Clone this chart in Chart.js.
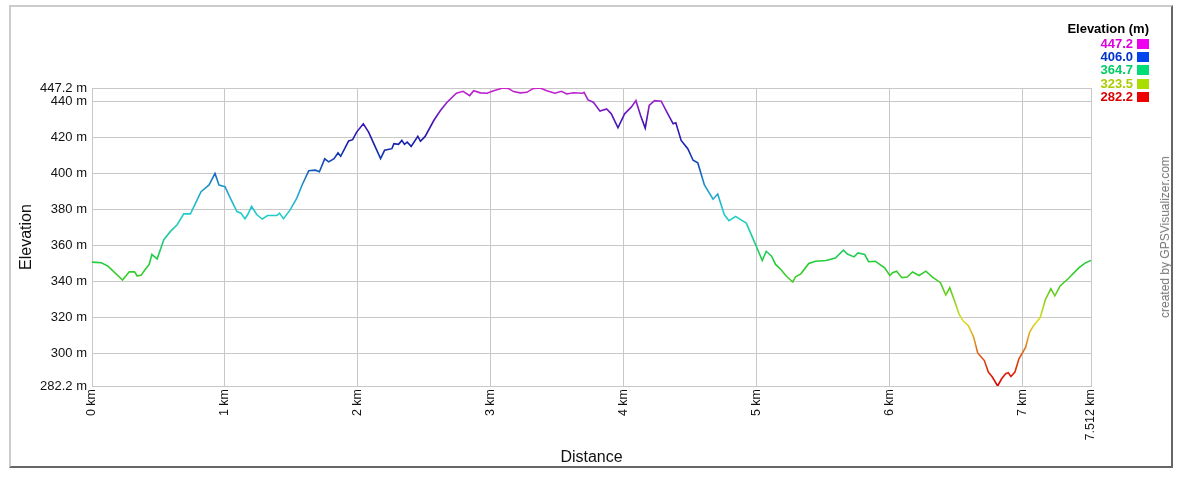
<!DOCTYPE html>
<html>
<head>
<meta charset="utf-8">
<title>Elevation profile</title>
<script src="https://cdn.jsdelivr.net/npm/chart.js@4/dist/chart.umd.min.js"></script>
<style>
  html, body { margin: 0; padding: 0; background: #fff; }
  body { width: 1183px; height: 478px; position: relative; overflow: hidden; font-family: "Liberation Sans", Arial, sans-serif; }
  #panel {
    position: absolute; left: 9px; top: 5px; width: 1164px; height: 463px; box-sizing: border-box;
    background: #fff; border-top: 2px solid #ccc; border-left: 2px solid #ccc;
    border-right: 2px solid #666; border-bottom: 2px solid #666;
  }
  #wrap { position: absolute; left: 0; top: 0; width: 1183px; height: 478px; }
  #legend { position: absolute; right: 34px; top: 21px; text-align: right; font-weight: bold; font-size: 13px; }
  #legend .head { color: #000; height: 16px; }
  #legend .row { height: 13.2px; line-height: 13px; }
  #legend .sw { display: inline-block; width: 12px; height: 10px; margin-left: 4px; vertical-align: -1px; }
  #credit {
    position: absolute; left: 1165px; top: 237px; transform: translate(-50%, -50%) rotate(-90deg);
    white-space: nowrap; font-size: 12px; color: #777;
  }
</style>
</head>
<body>
<div id="panel"></div>
<div id="wrap"><canvas id="chartElevation" width="1183" height="478"></canvas></div>
<div id="legend"></div>
<div id="credit">created by GPSVisualizer.com</div>
<script>
  // distance along the track (km) and elevation (m)
  const distKm = [
    0, 0.07, 0.12, 0.23, 0.28, 0.32, 0.34, 0.37, 0.40, 0.43,
    0.45, 0.49, 0.54, 0.59, 0.64, 0.69, 0.74, 0.82, 0.88, 0.925,
    0.955, 1.0, 1.04, 1.09, 1.12, 1.15, 1.17, 1.2, 1.24, 1.28,
    1.32, 1.39, 1.41, 1.44, 1.49, 1.54, 1.58, 1.63, 1.68, 1.71,
    1.75, 1.78, 1.82, 1.85, 1.87, 1.93, 1.96, 1.99, 2.04, 2.08,
    2.13, 2.17, 2.2, 2.255, 2.27, 2.305, 2.33, 2.35, 2.37, 2.4,
    2.45, 2.47, 2.505, 2.57, 2.62, 2.67, 2.74, 2.79, 2.84, 2.87,
    2.92, 2.97, 3.02, 3.09, 3.13, 3.17, 3.22, 3.27, 3.32, 3.37,
    3.42, 3.48, 3.53, 3.57, 3.62, 3.69, 3.7, 3.73, 3.77, 3.82,
    3.87, 3.905, 3.955, 4.005, 4.055, 4.09, 4.125, 4.16, 4.19, 4.23,
    4.28, 4.33, 4.37, 4.39, 4.43, 4.48, 4.52, 4.555, 4.605, 4.67,
    4.705, 4.755, 4.79, 4.84, 4.88, 4.92, 4.99, 5.04, 5.07, 5.11,
    5.14, 5.18, 5.22, 5.27, 5.29, 5.33, 5.39, 5.44, 5.52, 5.59,
    5.65, 5.68, 5.73, 5.76, 5.81, 5.84, 5.89, 5.96, 6.0, 6.02,
    6.05, 6.09, 6.13, 6.17, 6.22, 6.27, 6.32, 6.38, 6.42, 6.45,
    6.49, 6.52, 6.55, 6.59, 6.63, 6.66, 6.71, 6.74, 6.77, 6.81,
    6.84, 6.87, 6.89, 6.91, 6.94, 6.97, 7.02, 7.05, 7.08, 7.13,
    7.17, 7.21, 7.24, 7.28, 7.34, 7.42, 7.47, 7.512
  ];
  const elevM = [
    350.8, 350.4, 348.6, 340.9, 345.4, 345.4, 343.1, 343.6, 346.7, 349.5,
    355, 352.6, 363.2, 367.8, 371.5, 377.5, 377.5, 389.8, 393.5, 399.9,
    393.5, 392.6, 386.2, 378.8, 377.9, 374.8, 377, 381.6, 377, 374.6,
    376.6, 376.6, 377.9, 374.8, 379.7, 386.2, 393.5, 401.4, 401.7, 400.8,
    408, 406.3, 408.1, 411.3, 409.4, 417.9, 418.6, 422.8, 427.4, 422.8,
    414.6, 408.1, 412.7, 413.6, 416.4, 416, 418.2, 416, 417.3, 414.9,
    420.4, 417.7, 420.4, 429.2, 434.7, 439.3, 444.3, 445.4, 443, 445.7,
    444.5, 444.3, 445.7, 447.2, 447, 445.2, 444.5, 444.8, 447, 447.2,
    445.7, 444.3, 445.4, 443.9, 444.6, 444.3, 444.8, 440.6, 439.3, 434.4,
    435.6, 432.9, 425.2, 432.9, 436.6, 440.2, 432, 425, 437.5, 440.2,
    439.9, 432.9, 427.4, 427.9, 418.2, 413.6, 407.2, 405.8, 393.5, 385.6,
    388.5, 377, 373.7, 376.1, 374.2, 372.4, 360.5, 351.7, 356.8, 354.1,
    349.5, 346.7, 343.1, 339.8, 342.7, 344.3, 350.0, 351.3, 351.7, 353,
    357.4, 355.3, 353.7, 355.9, 355, 351, 351.3, 347.6, 343.4, 344.9,
    345.8, 342.2, 342.5, 345.3, 343.4, 345.8, 342.5, 339.4, 332.6, 336.6,
    328.4, 322, 318.3, 315.6, 309.2, 300.5, 296.3, 289.9, 287.2, 282.2,
    286.2, 289, 289.5, 287.5, 289.9, 297.2, 303.6, 311.9, 315.6, 320.1,
    330.2, 336.1, 332.1, 337.6, 341.6, 347.6, 350.4, 351.7
  ];

  const xTicks = [0, 1, 2, 3, 4, 5, 6, 7, 7.512];
  const yTicks = [282.2, 300, 320, 340, 360, 380, 400, 420, 440, 447.2];

  // legend values (top to bottom)
  const legendValues = ['447.2', '406.0', '364.7', '323.5', '282.2'];
  const legendText = ['#dd00dd', '#0033cc', '#00cc66', '#aacc00', '#dd0000'];
  const legendSwatch = ['#ee00ee', '#0044ee', '#00dd77', '#aadd00', '#ee0000'];

  // colour ramp along the elevation axis
  const rampStops = [
    [282.2, '#dd0000'], [296, '#dd4411'], [308, '#dd9922'], [318, '#dddd22'],
    [326, '#aad422'], [336, '#55cc22'], [350, '#22cc33'], [364.7, '#22cc99'],
    [378, '#22cccc'], [392, '#2299cc'], [402, '#1155bb'], [415, '#1122aa'],
    [428, '#4411bb'], [440, '#9922cc'], [447.2, '#cc22cc']
  ];

  function elevationGradient(context) {
    const chart = context.chart;
    const area = chart.chartArea;
    if (!area) return '#22cc33';
    const y = chart.scales.y;
    const top = y.getPixelForValue(y.max);
    const bottom = y.getPixelForValue(y.min);
    const g = chart.ctx.createLinearGradient(0, bottom, 0, top);
    for (const [v, c] of rampStops) {
      g.addColorStop((v - y.min) / (y.max - y.min), c);
    }
    return g;
  }

  function buildLegend() {
    const box = document.getElementById('legend');
    let html = '<div class="head">Elevation (m)</div>';
    legendValues.forEach((v, i) => {
      html += `<div class="row" style="color:${legendText[i]}">${v}<span class="sw" style="background:${legendSwatch[i]}"></span></div>`;
    });
    box.innerHTML = html;
  }

  function renderChart() {
    const canvas = document.getElementById('chartElevation');
    if (!canvas || typeof Chart === 'undefined') return;

    Chart.defaults.font.family = '"Liberation Sans", Arial, sans-serif';
    Chart.defaults.color = '#111';

    const points = distKm.map((d, i) => ({ x: d, y: elevM[i] }));

    new Chart(canvas.getContext('2d'), {
      type: 'line',
      data: {
        datasets: [{
          label: 'Elevation',
          data: points,
          borderColor: elevationGradient,
          borderWidth: 1.6,
          pointRadius: 0,
          tension: 0,
          fill: false
        }]
      },
      options: {
        responsive: false,
        animation: false,
        layout: { padding: { left: 0, right: 92, top: 88, bottom: 10 } },
        plugins: { legend: { display: false }, tooltip: { enabled: false } },
        scales: {
          x: {
            type: 'linear',
            min: 0,
            max: 7.512,
            afterBuildTicks: (scale) => { scale.ticks = xTicks.map(v => ({ value: v })); },
            afterFit: (scale) => { scale.height = 82; },
            grid: { color: '#c8c8c8', drawTicks: false },
            border: { color: '#c8c8c8' },
            ticks: {
              autoSkip: false,
              minRotation: 90,
              maxRotation: 90,
              padding: 3,
              font: { size: 12.5 },
              color: '#111',
              callback: (v) => v + ' km'
            },
            title: { display: true, text: 'Distance', font: { size: 16 }, color: '#111', padding: { top: 0, bottom: 1 } }
          },
          y: {
            type: 'linear',
            min: 282.2,
            max: 447.2,
            afterBuildTicks: (scale) => { scale.ticks = yTicks.map(v => ({ value: v })); },
            afterFit: (scale) => { scale.width = 92; },
            grid: { color: '#c8c8c8', drawTicks: false },
            border: { color: '#c8c8c8' },
            ticks: {
              autoSkip: false,
              padding: 5,
              font: { size: 13 },
              color: '#111',
              callback: (v) => v + ' m'
            },
            title: { display: true, text: 'Elevation', font: { size: 16 }, color: '#111', padding: { top: 17, bottom: 0 } }
          }
        }
      }
    });
  }

  window.addEventListener('DOMContentLoaded', () => {
    buildLegend();
    renderChart();
  });
</script>
</body>
</html>
